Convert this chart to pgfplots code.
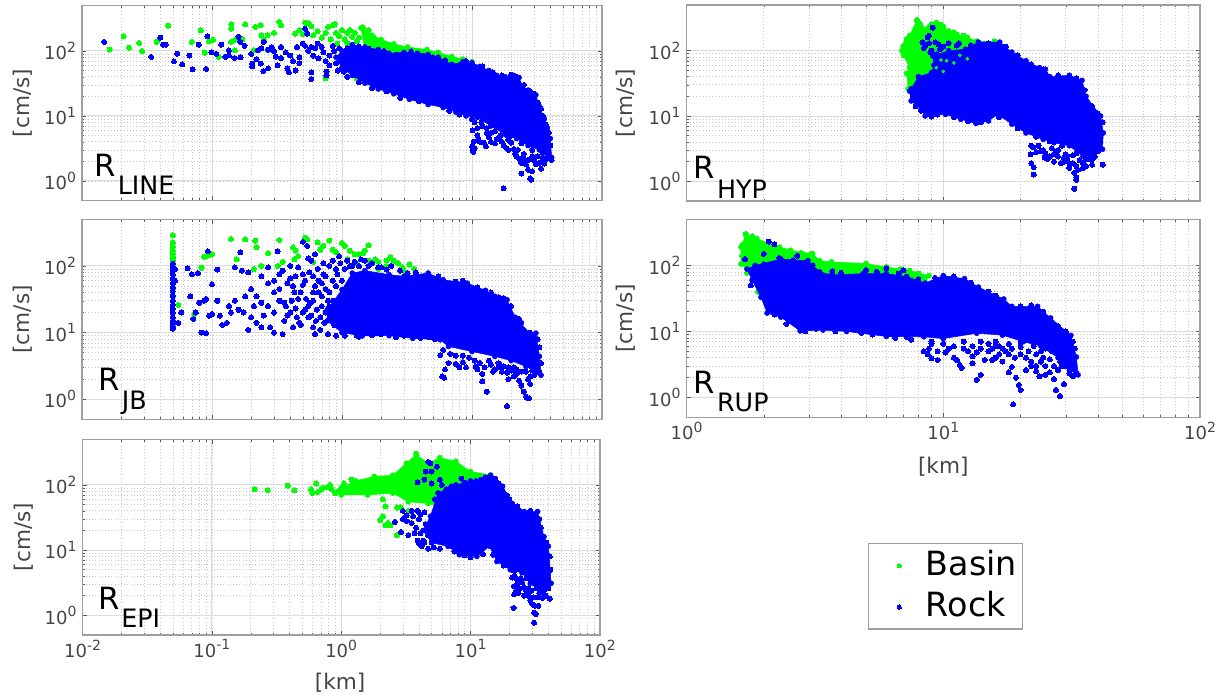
\documentclass[border=0pt]{standalone}
\usepackage{fontspec}
\setmainfont{DejaVu Sans}
\usepackage{pgfplots}
\pgfplotsset{compat=1.18}
\definecolor{basin}{rgb}{0,1,0}
\definecolor{rock}{rgb}{0,0,1}
\definecolor{txt}{gray}{0.27}
\newcommand\tp[1]{10\raisebox{5.5pt}{\fontsize{10.5}{10.5}\selectfont #1}}
\newcommand\rlab[2]{\fontsize{23}{23}\selectfont R\kern1.5pt\raisebox{-#2}{\fontsize{19}{19}\selectfont #1}}
\pgfplotsset{
 panel/.style={scale only axis,anchor=south west,clip marker paths=true,
  ymin=0.5,ymax=500,
  ytick={1,10,100},yticklabels={\tp{0},\tp{1},\tp{2}},
  grid=both,
  major grid style={gray!28,line width=0.7pt},
  minor grid style={gray!45,dotted,line width=0.5pt},
  axis line style={gray!75,line width=1.1pt},
  major tick style={gray!70!black,line width=0.5pt},
  minor tick style={gray!70!black,line width=0.4pt},
  tick align=inside,
  major tick length=3.2pt,minor tick length=1.7pt,
  tick label style={font=\fontsize{13.5}{13.5}\selectfont,text=txt},
  yticklabel style={xshift=-1pt},
 },
 ylab/.style={every axis y label/.style={at={(rel axis cs:#1,0.5)},rotate=90,anchor=center,font=\fontsize{16.2}{16.2}\selectfont,text=txt},ylabel={[cm/s]}},
 xlab/.style 2 args={every axis x label/.style={at={(rel axis cs:#1,#2)},anchor=center,font=\fontsize{16.2}{16.2}\selectfont,text=txt},xlabel={[km]}},
 ptsG/.style={only marks,mark=*,mark size=1.9pt,mark options={draw=basin,fill=basin,line width=0pt},color=basin},
 ptsB/.style={only marks,mark=*,mark size=1.9pt,mark options={draw=rock,fill=rock,line width=0pt},color=rock},
 bodyG/.style={draw=basin,fill=basin,mark=*,mark size=1.9pt,mark options={draw=basin,fill=basin},forget plot},
 bodyB/.style={draw=rock,fill=rock,mark=*,mark size=1.9pt,mark options={draw=rock,fill=rock},forget plot},
}
\begin{document}
\begin{tikzpicture}
\path[use as bounding box] (0,0) rectangle (918pt,523.5pt);

% Where the markers saturate into a solid mass no single point can be read;
% those masses are given as the outline (bodyG / bodyB),
% the separately visible points are listed one by one (ptsG / ptsB).

%===== R_LINE
\begin{loglogaxis}[panel,at={(61.5pt,373.1pt)},width=390pt,height=146.25pt,
 xmin=0.01,xmax=100,xtick={0.01,0.1,1,10,100},xticklabels={},ylab=-0.114]
\addplot[bodyG] coordinates {(1.4,225)(1.7,175)(2,150)(2.5,128)(3.2,115)(4.5,105)(5.5,95)(7,82)(8.5,75)(10,68)(8.5,60)(7,62)(5,70)(3,80)(1.5,100)} --cycle;
\addplot[ptsG] coordinates {(0.0163,105)(0.0209,168)(0.023,112)(0.0275,133)(0.029,100)(0.0375,138)(0.046,245)(0.07,138)(0.082,208)(0.088,94)(0.095,142)(0.102,149)(0.113,81)(0.141,257)(0.141,220)(0.14,138)(0.15,148)(0.15,103)(0.171,150)(0.18,257)(0.215,235)(0.237,250)(0.268,175)(0.24,175)(0.33,280)(0.34,250)(0.21,103)(0.268,103)(0.436,185)(0.52,272)(0.47,210)(0.75,38)(1.3,38)(2.1,28)(0.3,190)(0.25,150)
(0.5,180)(0.55,265)(0.58,240)(0.6,175)(0.65,200)(0.7,160)(0.75,190)(0.78,235)(0.82,150)(0.85,250)(0.88,260)(0.9,190)(0.95,170)(1,210)(1.05,150)(1.1,190)(1.15,210)(1.2,165)(1.25,190)(1.3,140)(1.35,160)(1.45,230)(1.5,190)(1.6,210)(1.75,160)(0.92,130)(1.1,130)};
\addplot[bodyB] coordinates {(1,100)(1.2,125)(1.5,115)(1.9,105)(2.3,92)(3,95)(3.8,92)(4.6,88)(5.5,80)(7,62)(8.5,68)(10,66)(11.5,58)(13.5,50)(15.5,42)(18,40)(21,42)(23,39)(24.5,28)(27,25)(31,21)(33,14)(36,9)(38,6.5)(40,4.5)(41,2.3)(38,2.5)(33,3)(27,3.5)(22,4.5)(18,5.2)(14,7)(11,9.5)(9,10)(7.5,11.5)(6,13.5)(4.6,15)(3.3,18)(2.5,22)(1.9,26)(1.5,32)(1.2,42)(1,55)(0.9,80)} --cycle;
\addplot[ptsB] coordinates {(0.0148,138)(0.034,81)(0.04,160)(0.042,125)(0.044,125)(0.051,69)(0.054,91)(0.059,62)(0.067,85)(0.071,52)(0.079,125)(0.09,53)(0.092,168)(0.099,95)(0.108,90)(0.118,125)(0.127,81)(0.135,102)(0.135,86)(0.149,78)(0.16,165)(0.165,138)(0.166,80)(0.178,120)(0.204,64)(0.204,58)(0.226,103)(0.237,64)(0.248,49)(0.25,138)(0.27,54)(0.288,115)(0.32,60)(0.34,115)(0.38,54)(0.39,47)(0.44,50)(0.45,115)(0.47,80)(0.52,220)(0.54,185)(0.58,47)(0.58,37)(0.58,115)(0.66,77)(0.76,42)(0.76,48)(0.87,100)(0.93,50)(1.03,48)(1.27,42)
(0.2,90)(0.22,75)(0.24,110)(0.27,105)(0.3,100)(0.31,82)(0.34,78)(0.37,95)(0.4,85)(0.42,70)(0.47,65)(0.5,130)(0.52,120)(0.55,100)(0.6,85)(0.62,110)(0.65,130)(0.7,115)(0.72,95)(0.75,70)(0.8,85)(0.8,60)(0.85,120)(0.9,65)(0.95,110)(1.1,65)(1.3,55)(1.15,75)(1.5,48)(1.8,35)(2,32)
(10.2,3)(10.2,2.8)(10,3.4)(10.3,4)(10.1,6)(11,5)(11,6.5)(11.5,4)(12.3,3.9)(13,5.5)(14,4)(15,3.8)(16,4.6)(17,4)(18.5,3.2)(19,4.3)(21,3.1)(22,2.4)(23,2.2)(24,1.9)(25,2.6)(26,1.8)(24,1.3)(27,1.5)(28,1.1)(28.5,1.05)(29,1.4)(31,1.8)(33,1.9)(34,1.55)(36,1.85)(38,2.2)(41,2.1)(17.5,0.77)(10.5,8)(12,7)(14,5.5)(20,5)
(1.1,110)(1.35,118)(1.6,108)(2.1,100)(2.6,88)(3.4,98)(4.2,85)(5,80)(6.2,72)(9,70)(12,58)(14.5,47)(17,42)(20,43)(22,40)(25,30)(28,24)(30,22)(32,16)(34,13)(35,10)(37,7.5)(39,5.5)(40,3.5)(5,17)(3.9,17)(2.8,19)(2.2,24)(1.7,27)(1.35,33)(1.1,40)(1.05,55)(8,10.5)(6.7,12)(10,9)(11.8,8)(13,6.5)(15,5.8)(16.5,5)(19,4.8)(24,3.8)(29,3)(35,2.7)(38,2.4)
(10.5,3.2)(11.2,4.3)(12.8,3.4)(13.5,4.7)(15.5,4.4)(17.5,3.5)(19,3)(20,3.9)(21.5,2.6)(22.5,3)(25,2.2)(27,2.1)(29,2.4)(30,2.1)(32,2.4)(35,2.2)};
\node[anchor=base west,text=black] at (rel axis cs:0.015,0.123) {\rlab{LINE}{13.5pt}};
\end{loglogaxis}

%===== R_HYP
\begin{loglogaxis}[panel,at={(514.9pt,372.75pt)},width=385.1pt,height=147pt,
 xmin=1,xmax=100,xtick={1,10,100},xticklabels={},ylab=-0.118]
\addplot[bodyG] coordinates {(7.9,295)(8.2,230)(8.8,230)(9.4,270)(10,235)(10.5,200)(11.3,178)(12.4,160)(13.5,140)(15.8,138)(15,110)(12,70)(10,50)(8,30)(7.3,26)(7.2,45)(7.4,55)(7,85)(6.9,100)(7.1,125)(7.4,170)} --cycle;
\addplot[ptsG] coordinates {(7.9,295)(8.5,200)(15.8,138)(14.5,125)(7.5,24)(7.6,19)(8.1,260)(9,255)(9.8,250)(11,190)(12,170)(7,115)(7.2,150)};
\addplot[bodyB] coordinates {(7.5,26)(8,40)(9,46)(9.2,60)(9.1,83)(10.5,100)(12.2,105)(13.7,135)(16.6,135)(18.5,95)(21,70)(23.7,55)(25,52)(26,40)(31,42)(34.7,35)(36,20)(41,10)(42,5.5)(41.7,3.1)(38.7,2.4)(35,2.4)(31,3.5)(27,3.9)(24.5,4.4)(21,5.5)(18.5,7.5)(16.3,10.6)(15,8.4)(13.4,7.7)(11.7,8.9)(10.2,10.6)(8.5,10)(8.2,12.7)(7.5,17)(7.4,24)} --cycle;
\addplot[ptsB] coordinates {(9.1,225)(8.7,160)(8.8,130)(8.3,135)(9.3,135)(9.7,105)(8.4,110)(9,100)(8.8,170)(8.5,120)(9.6,125)(10.5,75)(11.3,120)(11,88)(9.5,60)(8.2,12)(8.6,10.5)(9,9.8)(22,3.5)(23.5,3.5)(21.9,2.6)(22,1.9)(22.5,1.65)(22.5,1.27)(24.5,3)(26,2.4)(27,2)(27.5,2.9)(29.5,2.3)(30.5,2.4)(32,1.9)(32.4,1.35)(33,1.15)(33,1.05)(32.4,0.77)(35,1.9)(38,2.2)(41.8,1.8)(25,2.7)(28,3)(31,1.6)(33,1.7)(36,1.7)
(22.5,3.3)(23,2.8)(24,2.9)(24.8,2.3)(25.5,2.2)(26.5,3.2)(27,2.6)(28,2.4)(28.7,1.9)(29.5,2)(30,2.6)(30.5,2)(31,1.9)(32,2.5)(33,2.7)(33.5,1.5)(34,2.1)(35,1.6)(36,2.2)(37,2.2)(38,1.8)(39,2.4)(40,2.9)
(8.9,95)(9.4,88)(10,115)(10.5,130)(11.5,130)(12.8,120)(15,130)(17.5,115)(19.5,85)(22,62)(24.5,52)(28,42)(33,38)(35.5,25)(38,14)(40,11)(41.7,8)(16.5,9.5)(14,8)(12.5,8.3)(11,9.5)(9.5,10.5)(7.8,14)(7.6,20)(19.5,6.5)(23,4.8)(26,4.1)(29,3.5)};
\addplot[only marks,mark=*,mark size=1.2pt,mark options={draw=basin,fill=basin},forget plot] coordinates {(9.4,55)(10.3,70)(11,65)(11.6,85)(12.4,75)(10,48)(9.8,72)};
\node[anchor=base west,text=black] at (rel axis cs:0.005,0.117) {\rlab{HYP}{15pt}};
\end{loglogaxis}

%===== R_JB
\begin{loglogaxis}[panel,at={(61.5pt,209pt)},width=390pt,height=150pt,
 xmin=0.01,xmax=100,xtick={0.01,0.1,1,10,100},xticklabels={},ylab=-0.114]
\addplot[ptsG] coordinates {(0.05,290)(0.05,225)(0.05,195)(0.05,170)(0.05,155)(0.05,140)(0.05,130)(0.05,120)(0.05,110)(0.05,45)(0.05,35)(0.055,26)(0.073,19)(0.083,94)(0.087,138)(0.09,140)(0.1,150)(0.095,145)(0.14,255)(0.18,250)(0.215,240)(0.22,190)(0.155,125)(0.21,90)(0.27,155)(0.24,100)(0.27,95)(0.33,245)(0.32,100)(0.35,115)(0.42,190)(0.44,170)(0.46,140)(0.43,125)(0.52,265)(0.54,250)(0.6,115)(0.65,225)(0.68,175)(0.72,200)(0.8,240)(0.85,175)(0.9,160)(1,220)(1.05,200)(1.15,170)(1.25,150)(1.35,150)(1.45,155)(1.6,205)(1.5,170)(2.35,135)(2.7,110)(3.3,105)(3.6,90)(2.2,120)(1.9,115)(0.3,20)(2.5,120)(2.2,100)(1.8,125)(2.9,95)(3,85)(1.9,90)(1.3,110)(1.6,120)(1.1,125)};
\addplot[bodyB] coordinates {(0.77,22)(1,44)(1.2,78)(1.5,85)(2.3,74)(3,70)(4.6,78)(6,62)(9.2,55)(12.7,43)(15,35)(18.6,31)(21.5,17)(24,14)(26.5,9.8)(31,9.8)(33,4.4)(34,2.3)(30,2.7)(26,3.1)(20,3.8)(15,4.4)(10,5.2)(6.6,6.2)(5.7,7.8)(3.5,8.2)(2.3,9)(1.43,8.9)(1,10)(0.77,15)} --cycle;
\addplot[ptsB] coordinates {(0.05,108)(0.05,95)(0.05,85)(0.05,75)(0.05,65)(0.05,55)(0.05,48)(0.05,42)(0.05,36)(0.05,30)(0.05,26)(0.05,23)(0.05,20)(0.05,17)(0.05,15)(0.05,13.5)(0.05,12.5)(0.05,11.5)(0.052,90)(0.052,60)(0.055,14)(0.058,20)(0.065,92)(0.068,35)(0.07,75)(0.072,16)(0.075,20)(0.078,78)(0.08,28)(0.083,10)(0.09,32)(0.09,9.8)(0.087,30)(0.093,165)(0.095,18)(0.1,53)(0.1,19)(0.11,88)(0.11,30)(0.115,18)(0.12,13)(0.13,14)(0.135,25)(0.14,20)(0.15,95)(0.15,30)(0.16,22)(0.165,160)(0.17,85)(0.175,20)(0.18,35)(0.19,80)(0.19,11)(0.2,45)(0.2,17)(0.21,25)(0.22,35)(0.22,14)(0.24,70)(0.24,28)(0.24,12)(0.25,18)(0.27,95)(0.27,55)(0.27,25)(0.28,12)(0.3,40)(0.3,10)(0.3,20)(0.32,165)(0.33,75)(0.33,30)(0.35,9.5)(0.36,15)(0.37,25)(0.38,55)(0.4,20)(0.4,100)(0.42,12)(0.43,40)(0.44,70)(0.45,17)(0.46,32)(0.48,13)(0.5,230)(0.5,52)(0.52,22)(0.54,200)(0.55,17)(0.56,80)(0.57,28)(0.58,120)(0.6,12)(0.6,40)(0.62,9.5)(0.62,150)(0.64,22)(0.66,60)(0.68,17)(0.7,35)(0.72,110)(0.75,70)(0.78,9.5)(0.8,25)(0.85,120)(0.9,9)(0.9,90)(1,35)(0.95,140)(1.05,9)(1.2,100)(1.5,120)(1.7,110)(2,95)(2.4,100)(1.3,9)
(5.7,4.6)(5.9,2.2)(6.1,2.1)(6.2,2.8)(6.6,3.5)(7.5,3.4)(8,3)(9,3)(8.5,3.6)(10.7,3.1)(11,2.8)(12,1.85)(13,1.3)(12,2.4)(14,3.3)(15,2.8)(16,3.5)(17,2.6)(18.6,2.5)(18.6,0.79)(19,2)(20,2.7)(21,2.2)(22,2.4)(23,1.9)(24,1.6)(25,1.3)(26,1.1)(26.5,1.05)(27.5,1.03)(28,2.2)(30,2.3)
(0.3,60)(0.33,45)(0.35,85)(0.36,28)(0.38,18)(0.4,65)(0.41,30)(0.42,50)(0.44,23)(0.46,95)(0.47,14)(0.48,40)(0.5,20)(0.5,75)(0.52,60)(0.53,32)(0.55,25)(0.55,130)(0.58,18)(0.6,30)(0.6,70)(0.62,50)(0.63,15)(0.65,90)(0.66,40)(0.68,11)(0.7,25)(0.7,55)(0.72,75)(0.73,14)(0.75,20)(0.75,45)(0.78,30)(0.8,40)(0.8,100)(0.82,16)(0.85,60)(0.85,30)(0.87,13)(0.9,22)(0.9,50)(0.92,75)(0.95,18)(0.97,110)(1,60)(1,14)(1.05,90)(1.1,120)(1.15,100)(1.25,115)(1.35,100)(1.4,125)(1.6,100)(1.9,95)(2.2,88)(2.8,85)(3.2,78)(3.7,80)
(6,5.5)(6.8,4.8)(7.5,4.5)(8.5,4.5)(9.5,4.2)(10.5,3.8)(11.5,3.5)(12.5,3)(13.5,3.8)(14.5,2.6)(16,3)(17.5,3.1)(19,3)(21,3)(22,2.8)(24,2.6)(26,2.6)(27,2)(28,1.7)(29,2.7)(31,2.5)(33,2.5)
(1.35,8.7)(1.7,9.2)(2,9.5)(2.6,8.5)(3,9)(4,8.3)(4.7,8.5)(5.2,8)(5.5,70)(7.5,58)(8.5,60)(11,48)(14,40)(16,34)(17.5,33)(20,25)(23,16)(25,11)(28,10)(32,8)(33,6)(34,3.5)};
\node[anchor=base west,text=black] at (rel axis cs:0.023,0.146) {\rlab{JB}{14.5pt}};
\end{loglogaxis}

%===== R_RUP
\begin{loglogaxis}[panel,at={(514.9pt,210.5pt)},width=385.1pt,height=148.5pt,
 xmin=1,xmax=100,xtick={1,10,100},xticklabels={\tp{0},\tp{1},\tp{2}},
 xlab={0.5}{-0.25},ylab=-0.118]
\addplot[bodyG] coordinates {(1.7,290)(1.88,255)(2.1,215)(2.54,170)(3.1,150)(3.3,118)(3.67,113)(5,107)(6,95)(7.4,84)(8.8,70)(8.5,54)(7,60)(4.2,65)(3,70)(2,85)(1.75,80)(1.63,105)(1.63,190)} --cycle;
\addplot[ptsG] coordinates {(1.7,300)(1.66,210)(1.65,140)(1.72,78)(1.9,40)(2.55,165)(3.05,150)(2.8,155)(2.3,190)(1.8,275)(8,75)(6.8,88)};
\addplot[bodyB] coordinates {(1.85,100)(2.33,125)(2.97,118)(3.3,80)(3.67,72)(4.87,75)(6,75)(7.2,68)(8.5,54)(10,70)(12.1,63)(13.7,47)(17.2,31)(18.5,24)(23.3,24)(26.2,16)(31.4,8.7)(33,4.1)(33.5,2.2)(31,2.6)(28,4)(24,6)(20.5,7)(17,8.8)(13.5,9.4)(10,7.8)(8.4,8.3)(6,8.4)(4.2,10)(3.4,10.5)(2.77,10.2)(2.33,16.5)(2.06,19)(1.95,33)(1.8,60)(1.72,88)} --cycle;
\addplot[ptsB] coordinates {(2.09,230)(2.2,210)(1.69,125)(1.78,85)(2,150)(1.78,50)(2.3,130)(2.7,140)
(8.4,5)(8.7,4.5)(9,3.9)(9.5,3.7)(10.2,4.8)(11,4)(11.3,3.7)(11.6,3.1)(11.8,2.8)(12.5,5)(13,4.2)(13.5,1.85)(14,2.2)(14.5,3.7)(15,5)(15.5,3.7)(16,6)(16.5,4.5)(17,3.5)(17.5,5)(18,2.4)(18.5,2.9)(18.7,0.79)(19.2,2)(19.7,1.55)(20,1.3)(20,5.8)(21,2.6)(22,3.5)(22.5,6)(23,3)(23.7,2.1)(24.5,4)(25,3)(26,2.4)(27,1.9)(27.5,1.3)(28.5,1.05)(28,2.6)(29.5,1.6)(31,2.3)(32,2.1)(33,2.3)(25,5.5)(26.5,5)(28.5,3.5)(30,3)(12,7)(14,7)(16,7)(18,6.5)(20,6.8)(10,6.5)(9,6.5)(7.5,7.5)
(11,6)(12,5.5)(13,6)(13.5,4.8)(14,5.5)(15,6.5)(15.5,5.5)(16.5,6)(17,5.5)(18,4.5)(18.5,5.5)(19,4)(20,4.5)(21,4)(21.5,5)(23,4.5)(24,5)(24,3.5)(26,3.8)(27,3)(29,3)(30,3.8)(31,3.3)(32,3.5)(23,2.5)(25,2.2)(22,3)(16,4)(13,3.3)(10.5,5.5)(9.5,5)(8.8,5.5)(9,7)
(2,105)(2.6,120)(3.1,100)(4,78)(5.5,80)(6.7,75)(8,62)(9.3,65)(11,68)(12.8,55)(15,40)(16,35)(20,24)(22,25)(24.5,20)(28,12)(30,10)(32,7)(32.5,5.5)(2.9,10)(3.2,11)(3.8,10)(4.8,9.5)(5.3,9)(6.5,8)(7.2,8.3)(2.45,13)(2.2,18)(5,85)(7,85)(6,90)(3.7,82)};
\node[anchor=base west,text=black] at (rel axis cs:0.005,0.118) {\rlab{RUP}{13pt}};
\end{loglogaxis}

%===== R_EPI
\begin{loglogaxis}[panel,at={(61.9pt,47.25pt)},width=388pt,height=146.8pt,
 xmin=0.01,xmax=100,xtick={0.01,0.1,1,10,100},xticklabels={\tp{-2},\tp{-1},\tp{0},\tp{1},\tp{2}},
 xlab={0.498}{-0.245},ylab=-0.114,
 legend style={at={(rel axis cs:1.668,0.248)},anchor=center,draw=gray!75,line width=1pt,font=\fontsize{25}{25}\selectfont,text=black,
  nodes={inner xsep=0pt,inner ysep=0pt,text height=19pt,text depth=5pt},
  inner xsep=4pt,inner ysep=4.5pt,row sep=7pt},
 legend image code/.code={\path[draw=none] (-19pt,0pt) -- (20pt,0pt);\draw[#1,mark size=1.6pt] plot coordinates {(0pt,0pt)};},
 legend cell align=left]
\addplot[bodyG] coordinates {(1,90)(1.3,115)(1.8,135)(2.5,140)(3.2,215)(3.8,290)(4.7,215)(5.8,260)(7.7,230)(10,160)(14.3,142)(8,40)(4.7,52)(3.3,55)(2.5,75)(1.6,70)(1,70)} --cycle;
\addplot[ptsG] coordinates {(0.214,86)(0.27,83)(0.386,97)(0.435,83)(0.586,86)(0.6,75)(0.64,105)(0.66,78)(0.7,85)(0.72,90)(0.78,92)(0.82,100)(0.85,85)(0.9,75)(0.95,80)(1.05,105)(1.2,120)(2,29)(2.1,33)(2.2,24)(2.3,26)(2.4,24)(2.7,17)(2.2,47)(2.7,45)(2.9,45)(3.3,40)(3.8,300)(1.7,85)(2.1,60)};
\addlegendentry{Basin}
\addplot[bodyB] coordinates {(5.6,75)(7.7,100)(10,115)(12,120)(14.3,140)(17.7,95)(21,52)(26,39)(33,39)(37,16)(40,11.5)(42,3.1)(36,2.2)(29,3.1)(25,4.5)(20.3,5)(16,6.7)(14,11.5)(11.2,8)(8.2,8.5)(6.7,11.4)(5,13)(4.3,20)(4.9,33)} --cycle;
\addplot[ptsB] coordinates {(3,40)(3.2,34)(2.6,27)(3,30)(3.5,26)(2.9,19)(3.3,17)(3.8,22)(4,30)(4.4,38)(4.2,11.5)(4.7,10.5)(4,12.5)(5,13)(3.5,40)(4.7,225)(4.9,215)(4.5,160)(5,160)(5.5,190)(3.9,110)(4.4,120)(5,105)(5.8,120)(6,100)(7.1,95)(8.5,125)(5.3,60)(21,5)(21,3.8)(21.7,2.8)(21.7,2.1)(21.5,1.3)(23,3.5)(24,2.6)(25,3.2)(27,2.4)(28,2)(29,1.7)(30,1.5)(31,1.1)(31,0.77)(32,1.05)(33,1.9)(34,2.2)(36,1.85)(38,2)(41,1.8)(26,2)
(3.2,28)(3.6,33)(3.9,40)(4.1,35)(3.7,18)(4.1,18)(4.3,14)(4.5,25)(4.7,17)(4.4,13)(3.9,14)(5.2,11)(5.8,10.5)(5.3,40)(5.5,50)(5.6,30)(6.5,85)(9,108)(11,115)(13,130)(15.5,125)(16.5,105)(19,70)(20,60)(23,47)(24,40)(29,40)(34,30)(35,22)(38.5,13)(41,8)(41.5,5)(40,2.6)(33,2.6)(27,3.7)(22,4.8)(18,5.8)(15,8.5)(12.5,8.7)(10,7.8)(9,8.3)(7.5,9.5)
(22,4)(23,3)(22.5,2.4)(24.5,3.7)(26,2.7)(28,2.6)(29.5,2.4)(30.5,1.9)(31.5,1.4)(32.5,2.6)(33.5,1.4)(35,2.6)(37,2.4)(38,2.6)(23.5,2.2)};
\addlegendentry{Rock}
\node[anchor=base west,text=black] at (rel axis cs:0.021,0.128) {\rlab{EPI}{13.5pt}};
\end{loglogaxis}
\end{tikzpicture}
\end{document}
